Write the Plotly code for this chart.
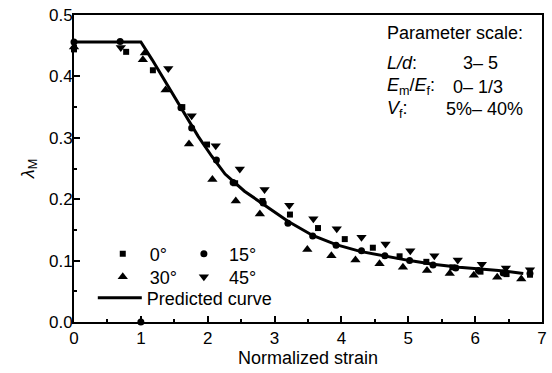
import plotly.graph_objects as go

# ---- data ----
curve_x = [0.0, 1.0, 1.17, 1.38, 1.59, 1.86, 2.06, 2.26, 2.55, 2.80, 3.20, 3.57, 3.92, 4.28, 4.67, 5.02, 5.37, 5.76, 6.35, 6.72]
curve_y = [0.456, 0.456, 0.427, 0.389, 0.350, 0.302, 0.270, 0.241, 0.213, 0.194, 0.164, 0.141, 0.126, 0.115, 0.107, 0.100, 0.094, 0.089, 0.084, 0.079]

sq_x = [0.0, 0.78, 1.18, 1.62, 1.99, 2.41, 2.82, 3.23, 3.65, 4.05, 4.47, 4.87, 5.27, 5.66, 6.08, 6.47, 6.82]
sq_y = [0.444, 0.440, 0.410, 0.350, 0.289, 0.226, 0.197, 0.175, 0.153, 0.135, 0.121, 0.107, 0.098, 0.089, 0.082, 0.078, 0.077]

ci_x = [0.0, 0.69, 1.0, 1.60, 1.76, 2.13, 2.38, 2.83, 3.20, 3.57, 3.92, 4.30, 4.65, 5.02, 5.37, 5.71, 6.05, 6.42, 6.82]
ci_y = [0.456, 0.457, 0.0, 0.349, 0.316, 0.264, 0.227, 0.194, 0.161, 0.140, 0.125, 0.116, 0.108, 0.100, 0.093, 0.088, 0.084, 0.080, 0.079]

tr_x = [0.0, 1.03, 1.06, 1.37, 1.72, 2.07, 2.42, 2.78, 3.49, 3.85, 4.21, 4.57, 4.92, 5.28, 5.62, 5.98, 6.33, 6.69]
tr_y = [0.448, 0.427, 0.438, 0.378, 0.290, 0.232, 0.197, 0.176, 0.118, 0.108, 0.101, 0.095, 0.089, 0.084, 0.079, 0.076, 0.073, 0.070]

it_x = [0.70, 1.41, 1.76, 2.12, 2.48, 2.85, 3.22, 3.58, 3.93, 4.30, 4.66, 5.03, 5.39, 5.74, 6.10, 6.46, 6.82]
it_y = [0.447, 0.413, 0.336, 0.287, 0.249, 0.216, 0.190, 0.168, 0.152, 0.138, 0.127, 0.116, 0.108, 0.101, 0.094, 0.088, 0.085]

series_names = ["0°", "15°", "30°", "45°", "Predicted curve"]
x_ticks = [0, 1, 2, 3, 4, 5, 6, 7]
y_ticks = [0.0, 0.1, 0.2, 0.3, 0.4, 0.5]

FONT = "Liberation Sans, Arial, sans-serif"

fig = go.Figure()

def mk(x, y, name, symbol, size, legend):
    fig.add_trace(go.Scatter(
        x=x, y=y, mode="markers", name=name, legend=legend,
        marker=dict(symbol=symbol, size=size, color="black", line=dict(width=0)),
        cliponaxis=False))

mk(sq_x, sq_y, series_names[0], "square", 6, "legend")
mk(ci_x, ci_y, series_names[1], "circle", 7, "legend2")
mk(tr_x, tr_y, series_names[2], "triangle-up", 9, "legend3")
mk(it_x, it_y, series_names[3], "triangle-down", 9, "legend4")
fig.add_trace(go.Scatter(x=curve_x, y=curve_y, mode="lines", name=series_names[4],
                         legend="legend5", line=dict(color="black", width=3)))

L, R, T, B = 74, 5, 15, 51
W, H = 552, 373
pw, ph = W - L - R, H - T - B

def px(x):
    return (x - L) / pw

def py(y):
    return (H - B - y) / ph

leg_common = dict(font=dict(family=FONT, size=18, color="black"), bgcolor="rgba(0,0,0,0)",
                  xanchor="left", yanchor="middle", borderwidth=0,
                  tracegroupgap=0)

layout_legends = {
    "legend": dict(x=px(96), y=py(254), itemwidth=44, **leg_common),
    "legend2": dict(x=px(180), y=py(254), itemwidth=40, **leg_common),
    "legend3": dict(x=px(96), y=py(277), itemwidth=44, **leg_common),
    "legend4": dict(x=px(180), y=py(277), itemwidth=40, **leg_common),
    "legend5": dict(x=px(93), y=py(298), itemwidth=44, **leg_common),
}

axis_common = dict(showline=True, linecolor="black", linewidth=2, mirror=True,
                   ticks="inside", ticklen=6, tickwidth=2, tickcolor="black",
                   showgrid=False, zeroline=False,
                   tickfont=dict(family=FONT, size=17, color="black"))

fig.update_layout(
    width=W, height=H,
    margin=dict(l=L, r=R, t=T, b=B),
    paper_bgcolor="white", plot_bgcolor="white",
    font=dict(family=FONT, color="black"),
    xaxis=dict(range=[0, 7], tickvals=x_ticks, ticktext=[str(v) for v in x_ticks],
               minor=dict(ticks="inside", ticklen=3, tickwidth=2, dtick=0.5, tickcolor="black"),
               title=dict(text="Normalized strain", font=dict(family=FONT, size=18), standoff=4),
               **axis_common),
    yaxis=dict(range=[0, 0.5], tickvals=y_ticks, ticktext=[f"{v:.1f}" for v in y_ticks],
               minor=dict(ticks="inside", ticklen=3, tickwidth=2, dtick=0.05, tickcolor="black"),
               ticklabelstandoff=-4,
               title=dict(text="<i>λ</i><sub>M</sub>", font=dict(family=FONT, size=18), standoff=10),
               **axis_common),
    showlegend=True,
    **layout_legends,
)

ann_font = dict(family=FONT, size=18, color="black")
anns = [
    (388, 33.3, "Parameter scale:"),
    (388, 63.3, "<i>L/d</i>:"),
    (465, 63.3, "3– 5"),
    (388, 86.5, "<i>E</i><sub>m</sub>/<i>E</i><sub>f</sub>:"),
    (455, 86.5, "0– 1/3"),
    (388, 109, "<i>V</i><sub>f</sub>:"),
    (448, 109, "5%– 40%"),
]
for ax_, ay_, txt in anns:
    fig.add_annotation(x=px(ax_), y=py(ay_), xref="paper", yref="paper", text=txt,
                       showarrow=False, xanchor="left", yanchor="middle", font=ann_font)

fig.write_html("out.html")
